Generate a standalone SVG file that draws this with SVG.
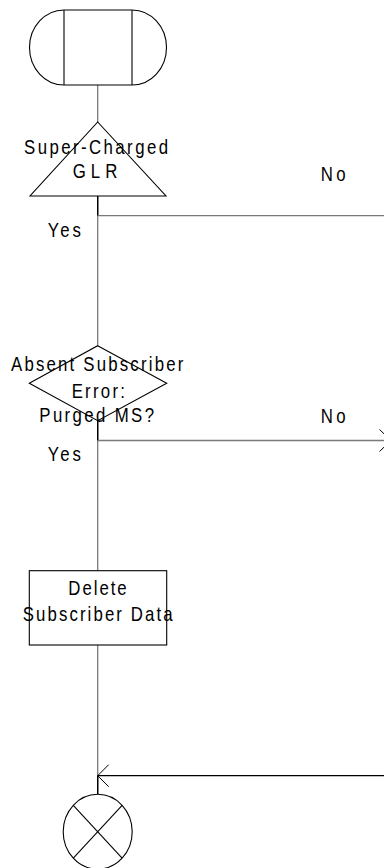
<svg xmlns="http://www.w3.org/2000/svg" width="384" height="868" viewBox="0 0 384 868">
<style>
.shape{fill:#fff;stroke:#000;stroke-width:1.1}
.ln{fill:none;stroke:#7a7a7a;stroke-width:1.3}
.dk{fill:none;stroke:#000;stroke-width:1.4}
text{font-family:"Liberation Sans",Arial,sans-serif;font-size:20.5px;fill:#000}
.c{text-anchor:middle}
</style>
<rect width="384" height="868" fill="#fff"/>
<g id="connectors">
<line class="ln" x1="97.7" y1="85" x2="97.7" y2="122"/>
<line class="ln" x1="97.7" y1="196" x2="97.7" y2="345.7"/>
<line class="dk" x1="97.7" y1="196" x2="97.7" y2="215.7"/>
<line class="ln" x1="97.7" y1="215.7" x2="384" y2="215.7"/>
<line class="ln" x1="97.7" y1="420.7" x2="97.7" y2="570.7"/>
<line class="dk" x1="97.7" y1="420.7" x2="97.7" y2="440.5"/>
<line class="ln" x1="97.7" y1="440.5" x2="384" y2="440.5"/>
<path class="dk" style="stroke-width:1" d="M379.5,429.5 L391,440.5 L379.5,451.5"/>
<line class="ln" x1="97.7" y1="645" x2="97.7" y2="794.3"/>
<line class="dk" x1="97.7" y1="775.7" x2="97.7" y2="794.3"/>
<line class="dk" style="stroke-width:1.2" x1="384" y1="775.7" x2="97.7" y2="775.7"/>
<path class="dk" style="stroke-width:1" d="M108.7,764.7 L97.7,775.7 L108.7,786.7"/>
<g transform="scale(0.82 1)">
<text x="391.1" y="181" textLength="30.5" lengthAdjust="spacing">No</text>
<text x="98.8" y="236.7" text-anchor="end" textLength="40.6" lengthAdjust="spacing">Yes</text>
<text x="391.1" y="423.3" textLength="30.5" lengthAdjust="spacing">No</text>
<text x="98.8" y="460.7" text-anchor="end" textLength="40.6" lengthAdjust="spacing">Yes</text>
</g>
</g>
<g id="start">
<path class="shape" d="M64,10 L132,10 A34.5,37.5 0 0 1 132,85 L64,85 A34.5,37.5 0 0 1 64,10 Z"/>
<line class="shape" x1="64" y1="10" x2="64" y2="85"/>
<line class="shape" x1="132" y1="10" x2="132" y2="85"/>
</g>
<g id="glr">
<polygon class="shape" style="fill:none" points="97.7,122 166,196 30,196"/>
<g transform="scale(0.82 1)">
<text class="c" x="117.1" y="154" textLength="175.6" lengthAdjust="spacing">Super-Charged</text>
<text class="c" x="115.9" y="178" textLength="54.4" lengthAdjust="spacing">GLR</text>
</g>
</g>
<g id="absent">
<polygon class="shape" style="fill:none" points="97.7,345.7 166.7,383.2 97.7,420.7 29.3,383.2"/>
<g transform="scale(0.82 1)">
<text class="c" x="118.5" y="370.7" textLength="210.1" lengthAdjust="spacing">Absent Subscriber</text>
<text class="c" x="119.9" y="398.3" textLength="65" lengthAdjust="spacing">Error:</text>
<text class="c" x="117.9" y="422.3" textLength="139.9" lengthAdjust="spacing">Purged MS?</text>
</g>
</g>
<g id="delete">
<rect class="shape" x="29.3" y="570.7" width="137.4" height="74.3"/>
<g transform="scale(0.82 1)">
<text class="c" x="118.9" y="595" textLength="71.2" lengthAdjust="spacing">Delete</text>
<text class="c" x="119.1" y="620.7" textLength="182.9" lengthAdjust="spacing">Subscriber Data</text>
</g>
</g>
<g id="end">
<ellipse class="shape" cx="97.7" cy="831.7" rx="34.5" ry="37.4"/>
<line class="shape" x1="73.3" y1="805.3" x2="122.1" y2="858.1"/>
<line class="shape" x1="122.1" y1="805.3" x2="73.3" y2="858.1"/>
</g>
</svg>
